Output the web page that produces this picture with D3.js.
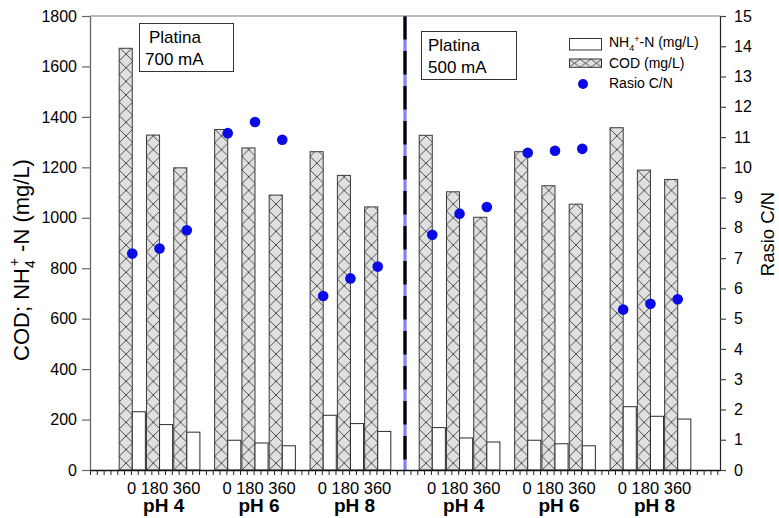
<!DOCTYPE html>
<html>
<head>
<meta charset="utf-8">
<script src="https://cdn.jsdelivr.net/npm/d3@7"></script>
<style>
  body { margin: 0; background: #fff; }
  svg { display: block; }
  text { font-family: Arial, "Liberation Sans", sans-serif; fill: #000; }
</style>
</head>
<body>
<svg id="chart" width="779" height="518"></svg>
<script>
// ---- data ----
const currents = ["700 mA", "500 mA"];
const phGroups = ["pH 4", "pH 6", "pH 8"];
const times = ["0", "180", "360"];

// COD (mg/L), per pH group then per time (0, 180, 360 min)
const cod700 = [1672, 1328, 1198, 1350, 1277, 1090, 1262, 1168, 1043];
const cod500 = [1327, 1103, 1002, 1262, 1127, 1054, 1357, 1189, 1152];
// NH4+-N (mg/L)
const nh700 = [231, 180, 150, 118, 107, 96, 217, 184, 153];
const nh500 = [168, 127, 111, 118, 104, 96, 251, 213, 202];
// C/N ratio
const ratio700 = [7.15, 7.32, 7.92, 11.13, 11.5, 10.91, 5.75, 6.33, 6.72];
const ratio500 = [7.77, 8.47, 8.69, 10.48, 10.55, 10.61, 5.30, 5.49, 5.64];

const codByCurrent = [cod700, cod500];
const nhByCurrent = [nh700, nh500];
const ratioByCurrent = [ratio700, ratio500];

// ---- layout ----
const plot = { left: 90, right: 720, top: 16, bottom: 470 };
const FIRST = 3.1;      // slot of the first bar pair
const BLOCK = 22;       // slots per current block
const GROUP = 7;        // slots per pH group
const STEP = 2;         // slots per time point
const BW = 0.96;        // bar width in slots

const svg = d3.select("#chart");
const x = d3.scaleLinear().domain([0, 46.2]).range([plot.left, plot.right]);
const yL = d3.scaleLinear().domain([0, 1800]).range([plot.bottom, plot.top]);
const yR = d3.scaleLinear().domain([0, 15]).range([plot.bottom, plot.top]);
const unit = x(1) - x(0);

const rows = [];
currents.forEach((cur, c) => {
  codByCurrent[c].forEach((v, i) => {
    const g = Math.floor(i / 3), t = i % 3;
    rows.push({
      c, g, t,
      u: FIRST + c * BLOCK + g * GROUP + t * STEP,
      cod: v, nh: nhByCurrent[c][i], ratio: ratioByCurrent[c][i]
    });
  });
});

// ---- hatch patterns ----
const defs = svg.append("defs");
function crossHatch(id, px, py, w, h) {
  const p = defs.append("pattern").attr("id", id)
    .attr("patternUnits", "userSpaceOnUse")
    .attr("x", px).attr("y", py).attr("width", w).attr("height", h);
  p.append("rect").attr("width", w).attr("height", h).attr("fill", "#e0e0e0");
  p.append("path").attr("d", `M0,0L${w},${h}M${w},0L0,${h}`)
    .attr("stroke", "#2a2a2a").attr("stroke-width", 0.8).attr("fill", "none");
}
crossHatch("hatch", x(FIRST - BW), plot.bottom, unit, unit);
crossHatch("hatchLegend", 569, 59, 11, 8.3);

// ---- bars ----
const bars = svg.append("g");
bars.selectAll("rect.cod").data(rows).join("rect").attr("class", "cod")
  .attr("x", d => x(d.u - BW)).attr("width", d => x(d.u) - x(d.u - BW))
  .attr("y", d => yL(d.cod)).attr("height", d => yL(0) - yL(d.cod))
  .attr("fill", "url(#hatch)").attr("stroke", "#3a3a3a").attr("stroke-width", 1);
bars.selectAll("rect.nh").data(rows).join("rect").attr("class", "nh")
  .attr("x", d => x(d.u)).attr("width", d => x(d.u + BW) - x(d.u))
  .attr("y", d => yL(d.nh)).attr("height", d => yL(0) - yL(d.nh))
  .attr("fill", "#fff").attr("stroke", "#2a2a2a").attr("stroke-width", 1);

// ---- divider between current blocks ----
const divX = x(FIRST + BLOCK - 2);
svg.append("line").attr("x1", divX).attr("x2", divX)
  .attr("y1", plot.top).attr("y2", plot.bottom)
  .attr("stroke", "#8080ff").attr("stroke-width", 3.2);
svg.append("line").attr("x1", divX).attr("x2", divX)
  .attr("y1", plot.top).attr("y2", plot.bottom)
  .attr("stroke", "#000").attr("stroke-width", 3.2)
  .attr("stroke-dasharray", "23.5 11.5");

// ---- ratio dots ----
svg.append("g").selectAll("circle").data(rows).join("circle")
  .attr("cx", d => x(d.u)).attr("cy", d => yR(d.ratio)).attr("r", 5.3)
  .attr("fill", "#0a0ae6");

// ---- axes ----
svg.append("line").attr("x1", plot.left).attr("x2", plot.right)
  .attr("y1", plot.top).attr("y2", plot.top).attr("stroke", "#777").attr("stroke-width", 1.2);

const axL = svg.append("g").attr("transform", `translate(${plot.left},0)`)
  .call(d3.axisLeft(yL).tickValues(d3.range(0, 1801, 200)).tickFormat(d3.format("d"))
    .tickSize(8).tickPadding(5).tickSizeOuter(0));
axL.select(".domain").attr("stroke", "#666").attr("stroke-width", 1.3);
axL.selectAll(".tick line").attr("stroke", "#666").attr("stroke-width", 1.2);
axL.selectAll("text").style("font-size", "16px").attr("fill", "#000");

const axR = svg.append("g").attr("transform", `translate(${plot.right},0)`)
  .call(d3.axisRight(yR).tickValues(d3.range(0, 16)).tickSize(6).tickPadding(8).tickSizeOuter(0));
axR.select(".domain").attr("stroke", "#222").attr("stroke-width", 1.2);
axR.selectAll(".tick line").attr("stroke", "#444").attr("stroke-width", 1.2);
axR.selectAll("text").style("font-size", "16px").attr("fill", "#000");

const axB = svg.append("g").attr("transform", `translate(0,${plot.bottom})`)
  .call(d3.axisBottom(x).tickValues(d3.range(0, 46.01, 0.5)).tickSize(5).tickFormat("").tickSizeOuter(0));
axB.select(".domain").attr("stroke", "#111").attr("stroke-width", 1.3);
axB.selectAll(".tick line").attr("stroke", "#222").attr("stroke-width", 1);

// ---- category labels ----
const groupCenters = [];
currents.forEach((cur, c) => phGroups.forEach((ph, g) => {
  groupCenters.push({ ph, u: FIRST + c * BLOCK + g * GROUP + STEP + 0.3 });
}));
svg.append("g").selectAll("text").data(groupCenters).join("text")
  .attr("x", d => x(d.u)).attr("y", 494).attr("text-anchor", "middle")
  .style("font-size", "16.5px").text(times.join(" "));
svg.append("g").selectAll("text").data(groupCenters).join("text")
  .attr("x", d => x(d.u)).attr("y", 512).attr("text-anchor", "middle")
  .style("font-size", "19px").style("font-weight", "bold").text(d => d.ph);

// ---- axis titles ----
const tl = svg.append("text").attr("transform", "translate(29,260) rotate(-90)")
  .attr("text-anchor", "middle").style("font-size", "22px");
tl.append("tspan").text("COD; NH");
tl.append("tspan").attr("dy", 6).style("font-size", "14px").text("4");
tl.append("tspan").attr("dy", -16).attr("dx", -6).style("font-size", "14px").text("+");
tl.append("tspan").attr("dy", 10).text(" -N (mg/L)");

svg.append("text").attr("transform", "translate(774,234) rotate(-90)")
  .attr("text-anchor", "middle").style("font-size", "18.5px").text("Rasio C/N");

// ---- current boxes ----
const boxes = [
  { x: 139, y: 23, w: 94, h: 48, lines: ["Platina", currents[0]], tx: [149, 145] },
  { x: 421, y: 31, w: 95, h: 48, lines: ["Platina", currents[1]], tx: [428, 428] }
];
boxes.forEach(b => {
  svg.append("rect").attr("x", b.x + 0.5).attr("y", b.y + 0.5).attr("width", b.w).attr("height", b.h)
    .attr("fill", "#fff").attr("stroke", "#333").attr("stroke-width", 1);
  b.lines.forEach((s, i) => svg.append("text").attr("x", b.tx[i]).attr("y", b.y + 20 + i * 21.5)
    .style("font-size", "17px").text(s));
});

// ---- legend ----
const lg = svg.append("g");
lg.append("rect").attr("x", 569.5).attr("y", 38.5).attr("width", 32).attr("height", 11.5)
  .attr("fill", "#fff").attr("stroke", "#333");
lg.append("rect").attr("x", 569.5).attr("y", 59).attr("width", 32).attr("height", 8.3)
  .attr("fill", "url(#hatchLegend)").attr("stroke", "#333");
lg.append("circle").attr("cx", 583).attr("cy", 84).attr("r", 5).attr("fill", "#0a0ae6");
const l1 = lg.append("text").attr("x", 609).attr("y", 47).style("font-size", "14px");
l1.append("tspan").text("NH");
l1.append("tspan").attr("dy", 4).style("font-size", "9px").text("4");
l1.append("tspan").attr("dy", -9).style("font-size", "9px").text("+");
l1.append("tspan").attr("dy", 5).text("-N (mg/L)");
lg.append("text").attr("x", 609).attr("y", 68).style("font-size", "14px").text("COD (mg/L)");
lg.append("text").attr("x", 609).attr("y", 88).style("font-size", "14px").text("Rasio C/N");
</script>
</body>
</html>
